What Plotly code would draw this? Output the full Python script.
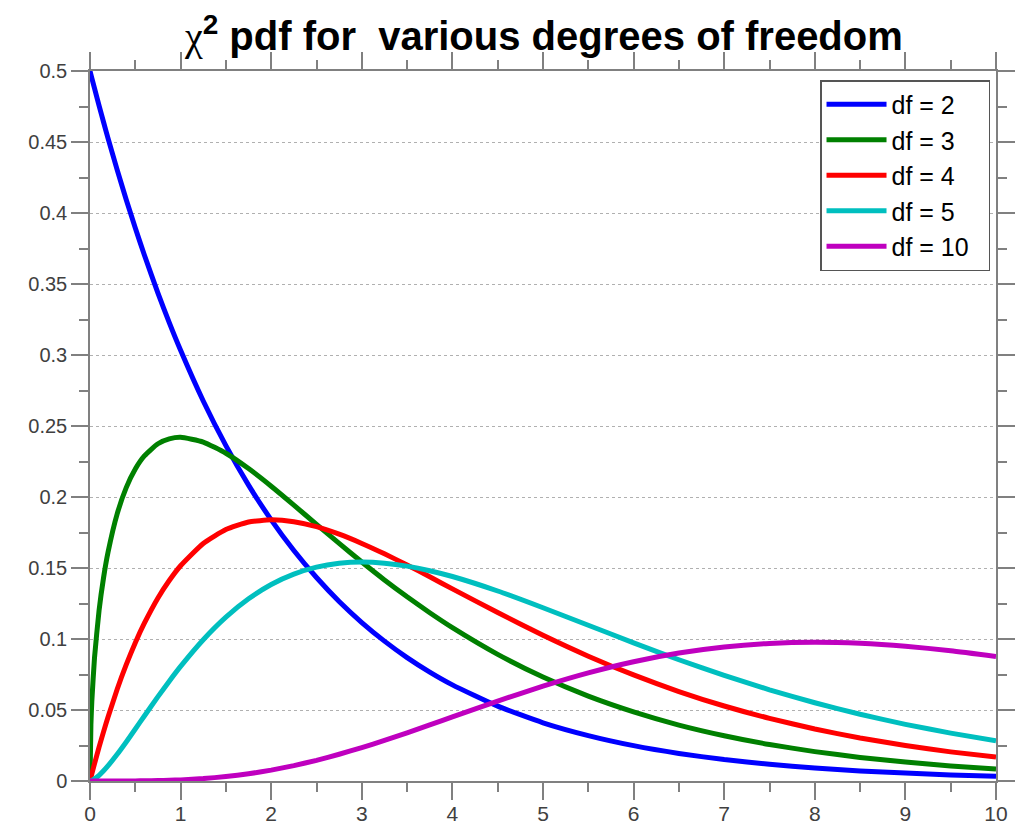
import plotly.graph_objects as go

x = [0, 0.01, 0.02, 0.05, 0.1, 0.15, 0.2, 0.3, 0.4, 0.5, 0.6, 0.75, 0.875, 1, 1.25, 1.5,
     1.75, 2, 2.25, 2.5, 2.75, 3, 3.25, 3.5, 3.75, 4, 4.5,
     5, 5.5, 6, 6.5, 7, 7.5, 8, 8.5, 9, 9.5, 10]

df2 = [0.5, 0.4975, 0.4950, 0.4877, 0.4756, 0.4639, 0.4524, 0.4304, 0.4094, 0.3894,
       0.3704, 0.3436, 0.3228, 0.3033, 0.2676, 0.2362, 0.2084, 0.1839, 0.1623, 0.1433,
       0.1264, 0.1116, 0.0985, 0.0869, 0.0767, 0.0677, 0.0527, 0.0410, 0.0320, 0.0249,
       0.0194, 0.0151, 0.0118, 0.0092, 0.0071, 0.0056, 0.0043, 0.0034]
df3 = [0, 0.0397, 0.0559, 0.0870, 0.1200, 0.1433, 0.1614, 0.1881, 0.2066, 0.2197,
       0.2289, 0.2375, 0.2409, 0.2420, 0.2387, 0.2308, 0.2200, 0.2076, 0.1943, 0.1807,
       0.1673, 0.1542, 0.1416, 0.1297, 0.1185, 0.1080, 0.0892, 0.0732, 0.0598, 0.0487,
       0.0394, 0.0319, 0.0257, 0.0207, 0.0166, 0.0133, 0.0106, 0.0085]
df4 = [0, 0.0025, 0.0050, 0.0122, 0.0238, 0.0348, 0.0452, 0.0646, 0.0819, 0.0974,
       0.1111, 0.1289, 0.1412, 0.1516, 0.1673, 0.1771, 0.1824, 0.1839, 0.1826, 0.1791,
       0.1738, 0.1673, 0.1600, 0.1521, 0.1438, 0.1353, 0.1186, 0.1026, 0.0879, 0.0747,
       0.0630, 0.0528, 0.0441, 0.0366, 0.0303, 0.0250, 0.0205, 0.0168]
df5 = [0, 0.0001, 0.0004, 0.0015, 0.0040, 0.0072, 0.0108, 0.0188, 0.0275, 0.0366,
       0.0458, 0.0594, 0.0703, 0.0807, 0.0995, 0.1154, 0.1283, 0.1384, 0.1457, 0.1506,
       0.1533, 0.1542, 0.1534, 0.1513, 0.1481, 0.1440, 0.1338, 0.1220, 0.1097, 0.0973,
       0.0854, 0.0744, 0.0642, 0.0551, 0.0470, 0.0399, 0.0337, 0.0283]
df10 = [0, 0, 0, 0, 0, 0, 0, 0.00001, 0.00003, 0.00006, 0.00013, 0.00028, 0.00049,
        0.00079, 0.00170, 0.00311, 0.00509, 0.00766, 0.01083, 0.01457, 0.01883,
        0.02353, 0.02860, 0.03395, 0.03949, 0.04511, 0.05628, 0.06680, 0.07617, 0.08402,
        0.09012, 0.09440, 0.09689, 0.09769, 0.09695, 0.09490, 0.09176, 0.08773]

series = [("df = 2", df2, "#0000FF"), ("df = 3", df3, "#008000"),
          ("df = 4", df4, "#FF0000"), ("df = 5", df5, "#00BFBF"),
          ("df = 10", df10, "#BF00BF")]

fig = go.Figure()
for i, (name, ys, col) in enumerate(series):
    fig.add_trace(go.Scatter(x=x, y=ys, mode="lines", name=name + "\u00a0\u00a0", legendgroup=f"g{i}",
                             line=dict(color=col, width=5, shape="spline", smoothing=0.5)))

axis_common = dict(showline=True, linecolor="#808080", linewidth=1.5, mirror="ticks",
                   ticks="outside", tickcolor="#808080", tickwidth=1.5, ticklen=17,
                   zeroline=False, automargin=False)

fig.update_layout(
    width=1025, height=825,
    margin=dict(l=90, r=29, t=71, b=44),
    paper_bgcolor="white", plot_bgcolor="white",
    title=dict(text="<span style=\"font-family:'Liberation Serif';font-weight:normal\">χ</span><sup>2</sup> pdf for  various degrees of freedom",
               x=0.5306, xanchor="center", y=0.9558, yanchor="middle",
               font=dict(family="Liberation Sans, Arial", size=40, color="black", weight="bold")),
    xaxis=dict(range=[0, 10], dtick=1, tick0=0, showgrid=False, ticklabelstandoff=-4,
               tickfont=dict(family="Liberation Sans, Arial", size=21, color="#404040"),
               minor=dict(dtick=0.5, ticks="outside", ticklen=9, tickcolor="#808080", tickwidth=1.5, showgrid=False),
               **axis_common),
    yaxis=dict(range=[0, 0.5], dtick=0.05, tick0=0, showgrid=True, gridcolor="#b0b0b0",
               griddash="dot", gridwidth=1,
               tickfont=dict(family="Liberation Sans, Arial", size=20, color="#404040"),
               minor=dict(dtick=0.025, ticks="outside", ticklen=9, tickcolor="#808080", tickwidth=1.5, showgrid=False),
               **axis_common),
    legend=dict(x=0.9934, y=0.9873, xanchor="right", yanchor="top",
                bgcolor="white", bordercolor="#555555", borderwidth=1.5,
                font=dict(family="Liberation Sans, Arial", size=25, color="black"),
                tracegroupgap=0, itemwidth=60),
    showlegend=True,
)

fig.write_html("out.html", config={"displayModeBar": False},
               post_script="document.body.style.margin='0';document.body.style.overflow='hidden';")
